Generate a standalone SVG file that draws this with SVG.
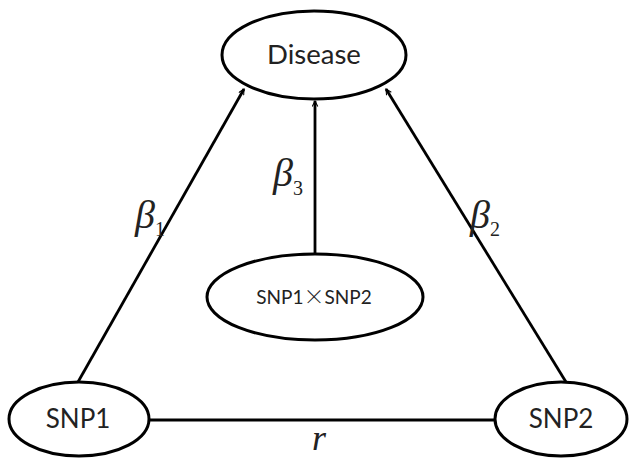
<svg xmlns="http://www.w3.org/2000/svg" width="631" height="461" viewBox="0 0 631 461">
<style>
.node{fill:#fff;stroke:#000;stroke-width:3}
.lbl{font-family:Lato,"Open Sans",sans-serif;fill:#222;text-anchor:middle}
.edge{stroke:#000;stroke-width:2.8;fill:none}
.greek{font-family:"Liberation Serif",serif;font-style:italic;fill:#222}
.sub{font-family:"Liberation Serif",serif;fill:#222;font-size:20px}
.cjk{font-family:"Noto Sans CJK SC",sans-serif;font-weight:300}
</style>
<defs>
<marker id="arr" viewBox="0 0 20 20" refX="18" refY="10" markerWidth="7" markerHeight="7" orient="auto" markerUnits="userSpaceOnUse">
<path d="M2 2 L18 10 L2 18" fill="none" stroke="#000" stroke-width="3"/>
</marker>
</defs>
<g id="edges">
<line class="edge" x1="78" y1="382" x2="244" y2="89" marker-end="url(#arr)"/>
<line class="edge" x1="315" y1="253" x2="315" y2="101" marker-end="url(#arr)"/>
<line class="edge" x1="566" y1="382" x2="386" y2="89" marker-end="url(#arr)"/>
<line class="edge" x1="149" y1="420" x2="495" y2="420"/>
<text class="greek" x="135" y="228" font-size="40">β</text><text class="sub" x="155" y="236">1</text>
<text class="greek" x="273" y="186" font-size="40">β</text><text class="sub" x="293" y="195">3</text>
<text class="greek" x="470" y="228" font-size="40">β</text><text class="sub" x="490" y="236">2</text>
<text class="greek" x="312" y="450" font-size="36">r</text>
</g>
<g id="disease"><ellipse class="node" cx="314" cy="55" rx="92" ry="44"/><text class="lbl" x="314" y="64" font-size="27.5">Disease</text></g>
<g id="snp1xsnp2"><ellipse class="node" cx="315" cy="297" rx="108" ry="43"/><text class="lbl" x="314" y="304" font-size="19">SNP1<tspan class="cjk" font-size="21">×</tspan>SNP2</text></g>
<g id="snp1"><ellipse class="node" cx="79" cy="419" rx="70" ry="37"/><text class="lbl" x="78" y="428" font-size="26">SNP1</text></g>
<g id="snp2"><ellipse class="node" cx="561" cy="419" rx="66" ry="37"/><text class="lbl" x="561" y="428" font-size="26">SNP2</text></g>
</svg>
